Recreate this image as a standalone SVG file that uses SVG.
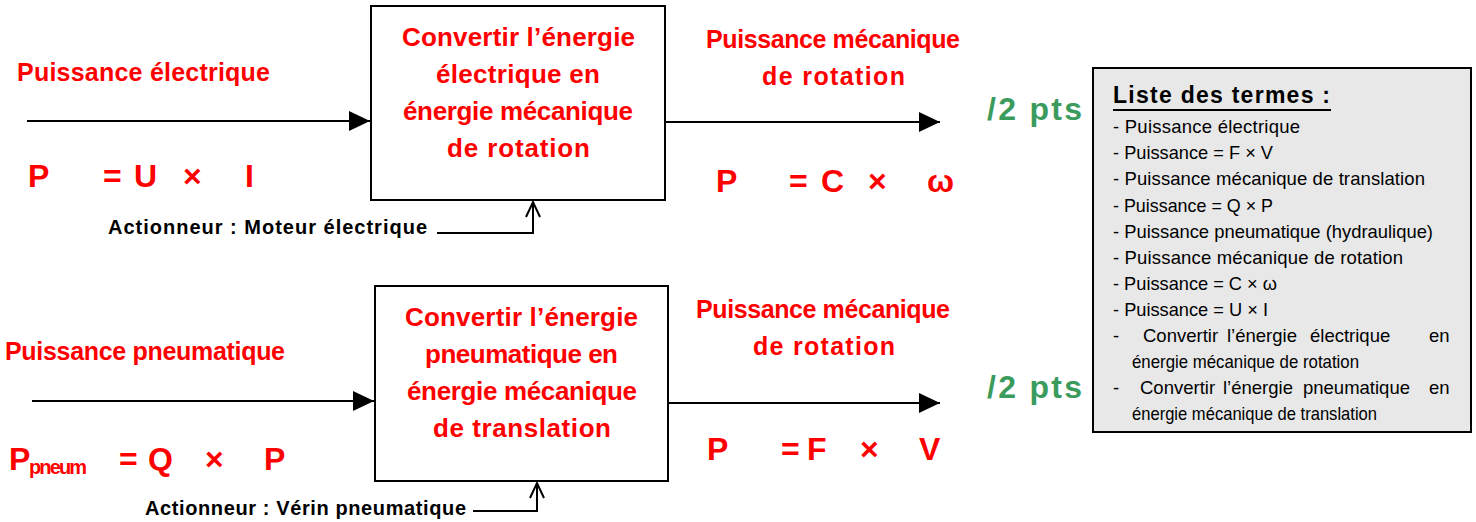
<svg xmlns="http://www.w3.org/2000/svg" width="1476" height="522" viewBox="0 0 1476 522">
<style>
.red{fill:#ff0000;font-family:"Liberation Sans",Arial,sans-serif;font-weight:bold;}
.lbl{font-size:25px;}
.box{font-size:26px;}
.eq{font-size:32px;}
.sub{font-size:20px;}
.act{fill:#000;font-family:"Liberation Sans",Arial,sans-serif;font-weight:bold;font-size:20px;}
.pts{fill:#3a9b5c;font-family:"Liberation Sans",Arial,sans-serif;font-weight:bold;font-size:32px;}
.item{fill:#000;font-family:"Liberation Sans",Arial,sans-serif;font-size:18.5px;}
.title{fill:#000;font-family:"Liberation Sans",Arial,sans-serif;font-weight:bold;font-size:23px;}
.frame{fill:#fff;stroke:#000;stroke-width:2;}
.conn{fill:none;stroke:#000;stroke-width:2;}
</style>
<defs>
<marker id="fa" markerUnits="userSpaceOnUse" markerWidth="22" markerHeight="22" refX="21" refY="10" orient="auto" overflow="visible">
<path d="M0,0 L21,10 L0,20 Z" fill="#000"/>
</marker>
<marker id="oa" markerUnits="userSpaceOnUse" markerWidth="16" markerHeight="16" refX="15" refY="0" orient="auto" overflow="visible">
<path d="M0,-7 L15,0 L0,7" fill="none" stroke="#000" stroke-width="2"/>
</marker>
</defs>
<rect width="1476" height="522" fill="#fff"/>

<g id="connectors">
<line class="conn" x1="27" y1="121" x2="370" y2="121" marker-end="url(#fa)"/>
<line class="conn" x1="666" y1="122" x2="940" y2="122" marker-end="url(#fa)"/>
<line class="conn" x1="32" y1="401" x2="374" y2="401" marker-end="url(#fa)"/>
<line class="conn" x1="669" y1="403" x2="940" y2="403" marker-end="url(#fa)"/>
<polyline class="conn" points="437,233 533,233 533,202" marker-end="url(#oa)"/>
<polyline class="conn" points="473,511 537,511 537,483" marker-end="url(#oa)"/>
</g>

<g id="box1">
<rect class="frame" x="371" y="6" width="294" height="194"/>
<text class="red box" x="402" y="46" textLength="233">Convertir l’énergie</text>
<text class="red box" x="436" y="83" textLength="164">électrique en</text>
<text class="red box" x="403" y="120" textLength="230">énergie mécanique</text>
<text class="red box" x="447" y="157" textLength="143">de rotation</text>
</g>

<g id="box2">
<rect class="frame" x="375" y="286" width="293" height="195"/>
<text class="red box" x="405" y="326" textLength="233">Convertir l’énergie</text>
<text class="red box" x="425" y="363" textLength="193">pneumatique en</text>
<text class="red box" x="407" y="400" textLength="230">énergie mécanique</text>
<text class="red box" x="433" y="437" textLength="178">de translation</text>
</g>

<g id="in1">
<text class="red lbl" x="17" y="81" textLength="253">Puissance électrique</text>
<text class="red eq" y="187"><tspan x="28">P</tspan><tspan x="103">=</tspan><tspan x="134">U</tspan><tspan x="183">×</tspan><tspan x="245">I</tspan></text>
</g>

<g id="out1">
<text class="red lbl" x="706" y="48" textLength="254">Puissance mécanique</text>
<text class="red lbl" x="762" y="85" textLength="143">de rotation</text>
<text class="red eq" y="192"><tspan x="716">P</tspan><tspan x="789">=</tspan><tspan x="821">C</tspan><tspan x="868">×</tspan><tspan x="927">ω</tspan></text>
</g>

<g id="act1">
<text class="act" x="108" y="234" textLength="319">Actionneur : Moteur électrique</text>
</g>

<g id="in2">
<text class="red lbl" x="5" y="360" textLength="280">Puissance pneumatique</text>
<text class="red eq" y="470"><tspan x="9">P</tspan></text>
<text class="red sub" x="29" y="474" textLength="58">pneum</text>
<text class="red eq" y="470"><tspan x="119">=</tspan><tspan x="148">Q</tspan><tspan x="205">×</tspan><tspan x="264">P</tspan></text>
</g>

<g id="out2">
<text class="red lbl" x="696" y="318" textLength="254">Puissance mécanique</text>
<text class="red lbl" x="753" y="355" textLength="142">de rotation</text>
<text class="red eq" y="460"><tspan x="707">P</tspan><tspan x="781">=</tspan><tspan x="807">F</tspan><tspan x="860">×</tspan><tspan x="919">V</tspan></text>
</g>

<g id="act2">
<text class="act" x="145" y="515" textLength="321">Actionneur : Vérin pneumatique</text>
</g>

<g id="pts1"><text class="pts" x="987" y="120" textLength="95">/2 pts</text></g>
<g id="pts2"><text class="pts" x="987" y="398" textLength="95">/2 pts</text></g>

<g id="terms">
<rect x="1093" y="68" width="378" height="364" fill="#e8e8e8" stroke="#000" stroke-width="2"/>
<text class="title" x="1113" y="103" textLength="217">Liste des termes :</text>
<line x1="1113" y1="110" x2="1331" y2="110" stroke="#000" stroke-width="2"/>
<text class="item" x="1113" y="133" textLength="187">- Puissance électrique</text>
<text class="item" x="1113" y="159" textLength="160" lengthAdjust="spacingAndGlyphs">- Puissance = F × V</text>
<text class="item" x="1113" y="185" textLength="312">- Puissance mécanique de translation</text>
<text class="item" x="1113" y="212" textLength="160" lengthAdjust="spacingAndGlyphs">- Puissance = Q × P</text>
<text class="item" x="1113" y="238" textLength="320" lengthAdjust="spacingAndGlyphs">- Puissance pneumatique (hydraulique)</text>
<text class="item" x="1113" y="264" textLength="290">- Puissance mécanique de rotation</text>
<text class="item" x="1113" y="290" textLength="164" lengthAdjust="spacingAndGlyphs">- Puissance = C × ω</text>
<text class="item" x="1113" y="316" textLength="155" lengthAdjust="spacingAndGlyphs">- Puissance = U × I</text>
<text class="item" y="342"><tspan x="1113">-</tspan><tspan x="1143">Convertir</tspan><tspan x="1227">l’énergie</tspan><tspan x="1310">électrique</tspan><tspan x="1429">en</tspan></text>
<text class="item" x="1132" y="368" textLength="227" lengthAdjust="spacingAndGlyphs">énergie mécanique de rotation</text>
<text class="item" y="394"><tspan x="1113">-</tspan><tspan x="1140">Convertir</tspan><tspan x="1223">l’énergie</tspan><tspan x="1303">pneumatique</tspan><tspan x="1429">en</tspan></text>
<text class="item" x="1132" y="420" textLength="245" lengthAdjust="spacingAndGlyphs">énergie mécanique de translation</text>
</g>
</svg>
